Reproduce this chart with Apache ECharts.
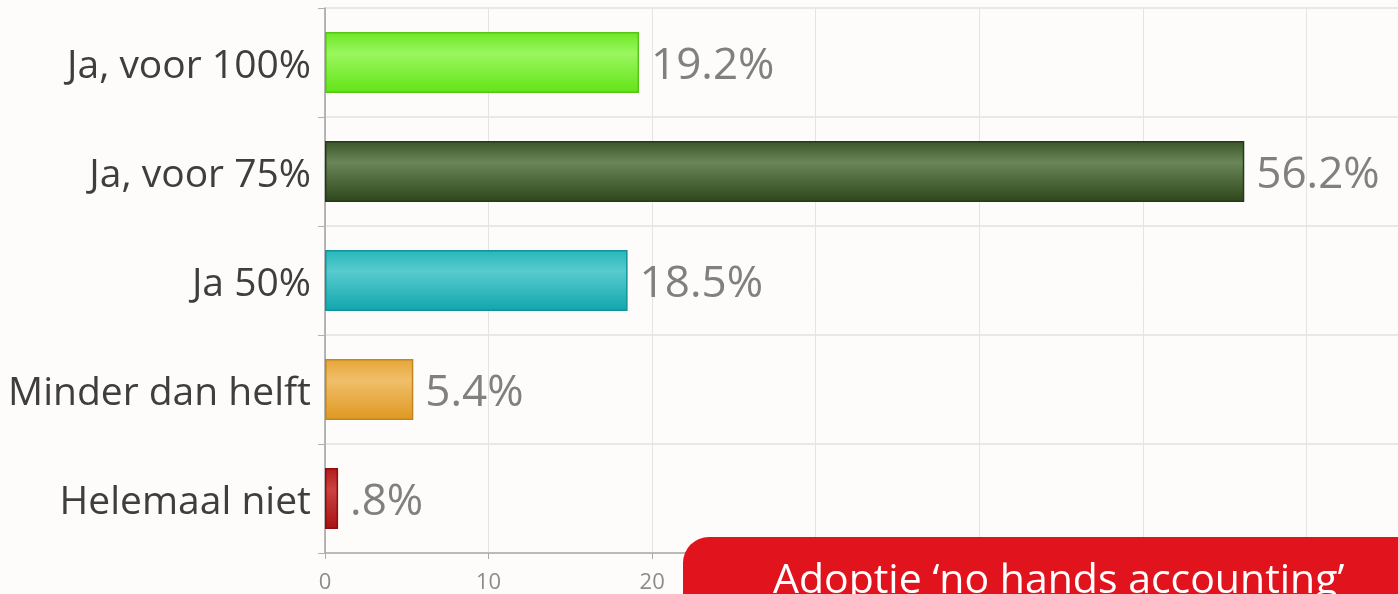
<!DOCTYPE html>
<html>
<head>
<meta charset="utf-8">
<script src="https://cdn.jsdelivr.net/npm/echarts@6/dist/echarts.min.js"></script>
<style>
  html, body { margin: 0; padding: 0; background: #fdfcfa; }
  #chart { width: 1398px; height: 594px; }
</style>
</head>
<body>
<div id="chart"></div>
<script>
const categories = ['Ja, voor 100%', 'Ja, voor 75%', 'Ja 50%', 'Minder dan helft', 'Helemaal niet'];
const values = [19.2, 56.2, 18.5, 5.4, 0.8];
const valueLabels = ['19.2%', '56.2%', '18.5%', '5.4%', '.8%'];
const axisTicks = [0, 10, 20, 30, 40, 50, 60, 70];
const bannerText = 'Adoptie ‘no hands accounting’';

// top, middle highlight, bottom, border
const palette = [
    ['#6ce824', '#9af65e', '#62e416', '#56c418'],
    ['#3a5629', '#6b8659', '#2c461a', '#263a18'],
    ['#27b6bb', '#58cbce', '#10a6ac', '#10949a'],
    ['#e6a636', '#f0be6a', '#df9820', '#c4861c'],
    ['#b41a1a', '#cc4242', '#a81212', '#8c0e0e']
];

const chart = echarts.init(document.getElementById('chart'));
const font = '"Open Sans", "Noto Sans", sans-serif';

chart.setOption({
    backgroundColor: '#fdfcfa',
    animation: false,
    grid: { left: 325, right: -72, top: 8, bottom: 41, outerBoundsMode: 'none', containLabel: false },
    xAxis: {
        type: 'value',
        min: axisTicks[0],
        max: axisTicks[axisTicks.length - 1],
        interval: 10,
        axisLine: { show: true, lineStyle: { color: '#aaaaaa', width: 1.5 } },
        axisTick: { show: true, length: 6, lineStyle: { color: '#aaaaaa' } },
        splitLine: { show: true, lineStyle: { color: '#e4e4e4', width: 1 } },
        axisLabel: { fontFamily: font, fontSize: 22, color: '#8c8c8c', margin: 19 }
    },
    yAxis: {
        type: 'category',
        inverse: true,
        data: categories,
        axisLine: { show: true, lineStyle: { color: '#a0a0a0', width: 1.5 } },
        axisTick: { show: true, length: 7, lineStyle: { color: '#b0b0b0' } },
        splitLine: { show: true, lineStyle: { color: '#e8e8e8', width: 2 } },
        axisLabel: {
            margin: 14,
            formatter: v => '{c|' + v + '}',
            rich: {
                c: { fontFamily: font, fontSize: 39, color: '#3e3e3e', padding: [9, 0, 0, 0] }
            }
        }
    },
    series: [{
        type: 'bar',
        barCategoryGap: '44%',
        data: values.map((v, i) => ({
            value: v,
            itemStyle: {
                color: new echarts.graphic.LinearGradient(0, 0, 0, 1, [
                    { offset: 0, color: palette[i][0] },
                    { offset: 0.35, color: palette[i][1] },
                    { offset: 1, color: palette[i][2] }
                ]),
                borderColor: palette[i][3],
                borderWidth: 1.5
            }
        })),
        label: {
            show: true,
            position: 'right',
            distance: 12,
            offset: [0, 4],
            fontFamily: font,
            fontSize: 44,
            color: '#808080',
            formatter: p => valueLabels[p.dataIndex]
        }
    }],
    graphic: [
        {
            type: 'rect',
            shape: { x: 683, y: 537, width: 800, height: 120, r: 26 },
            style: { fill: '#e1141e' },
            z: 100
        },
        {
            type: 'text',
            x: 773,
            y: 581,
            style: {
                text: bannerText,
                fill: '#ffffff',
                font: '41px "Open Sans", sans-serif',
                verticalAlign: 'middle'
            },
            z: 101
        }
    ]
});
</script>
</body>
</html>
